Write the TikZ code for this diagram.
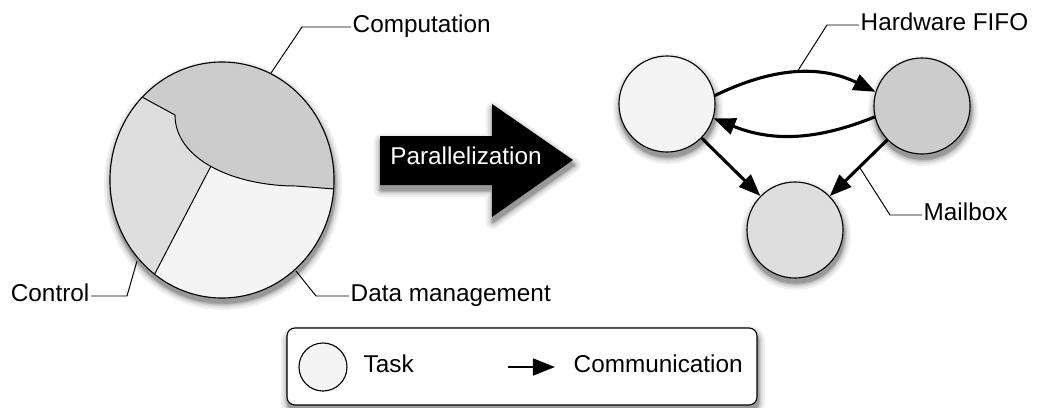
\documentclass[tikz,border=0pt]{standalone}
\usepackage{fontspec}
\setmainfont{Liberation Sans}
\usetikzlibrary{arrows.meta,positioning,backgrounds}

\definecolor{taskwhite}{HTML}{F4F4F4}
\definecolor{taskgray}{HTML}{CCCCCC}
\definecolor{tasklight}{HTML}{DEDEDE}

% soft shadow under a path, drawn as rings of grey
\newcommand{\softshade}[1]{%
 \foreach \w/\k in {10/6,7/12,4.5/20,2.5/30,1/40}{%
  \draw[black!\k,fill=black!\k,line width=\w pt,line join=round,shift={(1,5)}] #1;}}

\tikzset{
 task/.style={circle,draw,line width=0.8pt,minimum size=2.4cm,inner sep=0pt},
 comm/.style={line width=2.2pt,-{Triangle[length=0.55cm,width=0.42cm]}},
 leader/.style={line width=0.7pt},
 lbl/.style={font=\fontsize{17.3}{20}\selectfont,inner sep=1pt,text height=0.72em,text depth=0pt},
}

\begin{document}
\begin{tikzpicture}[x=0.025cm,y=-0.025cm]
 \useasboundingbox (0,0) rectangle (1040,408);

 % pie of the sequential program
 \coordinate (pc) at (222,180);
 \softshade{([xshift=0.7pt,yshift=-3.5pt]pc) ellipse[x radius=2.8cm,y radius=2.95cm]}
 \fill[taskwhite] (pc) ellipse[x radius=2.8cm,y radius=2.95cm];
 \begin{scope}
  \clip (pc) ellipse[x radius=2.8cm,y radius=2.95cm];
  \fill[tasklight] (109,79) -- (175,115) -- (211,166) -- (138,306) -- (60,306) -- (60,79) -- cycle;
  \fill[taskgray] (109,79) -- (175,115) .. controls (175,160) and (235,186) .. (296,186)
   -- (360,191) -- (360,30) -- (109,30) -- cycle;
  \draw[line width=0.7pt] (109,79) -- (175,115) .. controls (175,160) and (235,186) .. (296,186) -- (360,191);
  \draw[line width=0.7pt] (211,166) -- (138,306);
 \end{scope}
 \draw[line width=0.8pt] (pc) ellipse[x radius=2.8cm,y radius=2.95cm];

 % pie labels
 \node[lbl,anchor=west] (comp) at (351,27) {Computation};
 \node[lbl,anchor=east] (ctrl) at (91,296) {Control};
 \node[lbl,anchor=west] (data) at (349,296) {Data management};
 \coordinate (compPt) at (271,73);
 \coordinate (ctrlPt) at (137,261);
 \coordinate (dataPt) at (296,271);
 \draw[leader] (compPt) -- (302,27) -- (comp.west);
 \draw[leader] (ctrlPt) -- (127,296) -- (ctrl.east);
 \draw[leader] (dataPt) -- (316,296) -- (data.west);

 % big arrow
 \softshade{(380,136) -- (492,136) -- (492,104) -- (573,160) -- (492,217) -- (492,185) -- (380,185) -- cycle}
 \fill[black] (380,136) -- (492,136) -- (492,104) -- (573,160) -- (492,217) -- (492,185) -- (380,185) -- cycle;
 \node[lbl,text=white] (par) at (466,159) {Parallelization};

 % task graph
 \node[task,fill=taskwhite] (t1) at (667,104) {};
 \node[task,fill=taskgray] (t2) at (922,106) {};
 \node[task,fill=tasklight] (t3) at (795,230) {};
 \begin{scope}[on background layer]
  \foreach \t in {t1,t2,t3}{\softshade{([xshift=0.7pt,yshift=-3.5pt]\t) circle[radius=1.2cm]}}
 \end{scope}
 \draw[comm] (t1.10) to[out=26,in=154] (t2.163);
 \draw[comm] (t2.193) to[out=202,in=-22] (t1.-17);
 \draw[comm] (t1) -- (t3);
 \draw[comm] (t2) -- (t3);

 \node[lbl,anchor=west] (fifo) at (859,25) {Hardware FIFO};
 \node[lbl,anchor=west] (mail) at (922,215) {Mailbox};
 \coordinate (fifoPt) at (797,72);
 \coordinate (mailPt) at (860,168);
 \draw[leader] (fifoPt) -- (827,25) -- (fifo.west);
 \draw[leader] (mailPt) -- (890,215) -- (mail.west);

 % legend
 \softshade{(287,328) [rounded corners=0.2cm] rectangle (757,405)}
 \draw[line width=0.8pt,fill=white,rounded corners=0.2cm] (287,328) rectangle (757,405);
 \node[task,fill=taskwhite,minimum size=1.2cm] (lt) at (323,367) {};
 \begin{scope}[on background layer]
  \softshade{([xshift=0.5pt,yshift=-2pt]lt) circle[radius=0.6cm]}
 \end{scope}
 \node[lbl,anchor=west] (ltask) at (362,367) {Task};
 \coordinate (la1) at (508,367);
 \coordinate (la2) at (555,367);
 \draw[line width=1.6pt,-{Triangle[length=0.55cm,width=0.42cm]}] (la1) -- (la2);
 \node[lbl,anchor=west] (lcomm) at (572,367) {Communication};
\end{tikzpicture}
\end{document}
